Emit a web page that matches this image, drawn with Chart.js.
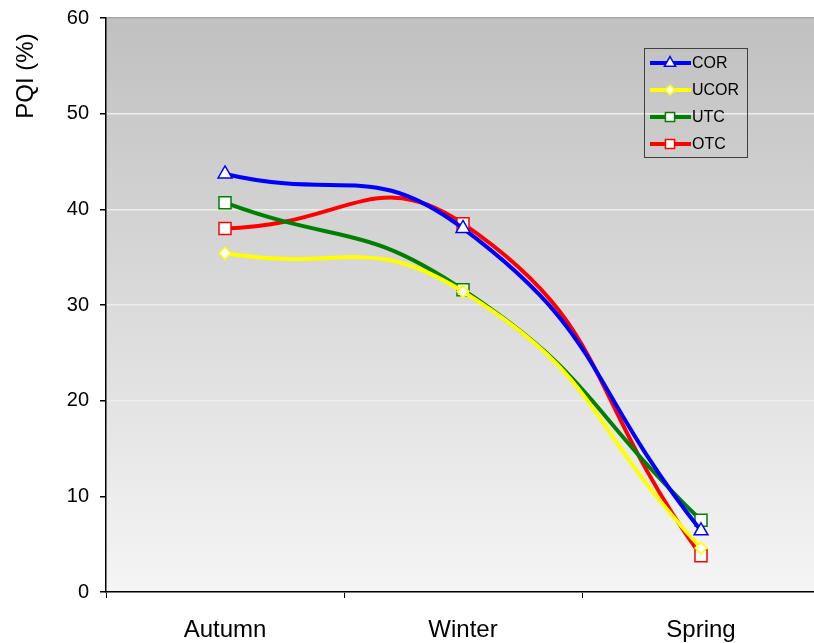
<!DOCTYPE html>
<html><head><meta charset="utf-8">
<script src="https://cdn.jsdelivr.net/npm/chart.js@4.4.0/dist/chart.umd.min.js"></script>
<style>
html,body{margin:0;padding:0;overflow:hidden;background:#fff;width:814px;height:643px;}
#wrap{position:absolute;left:0;top:0;width:830px;height:643px;}
</style></head><body>
<div id="wrap"><canvas id="c" width="830" height="643"></canvas></div>
<script>
const categories = ['Autumn', 'Winter', 'Spring'];
const seriesNames = ['COR', 'UCOR', 'UTC', 'OTC'];
const COR  = [43.7, 38.0, 6.4];
const UCOR = [35.4, 31.4, 4.6];
const UTC  = [40.7, 31.6, 7.5];
const OTC  = [38.0, 38.5, 3.8];
const yTicks = [0, 10, 20, 30, 40, 50, 60];
const yTitle = 'PQI (%)';

const FONT = '"Liberation Sans", Arial, sans-serif';
const colors = ['#0000ff', '#ffff00', '#008000', '#ff0000'];
const styles = ['triangle', 'rectRot', 'rect', 'rect'];
const radii = [8, 6, 8.5, 8.5];
const values = [COR, UCOR, UTC, OTC];

const datasets = seriesNames.map((n, i) => ({
  label: n,
  data: values[i],
  borderColor: colors[i],
  backgroundColor: '#ffffff',
  borderWidth: 4,
  pointStyle: styles[i],
  pointRadius: radii[i],
  pointBorderWidth: 1.5,
  pointBackgroundColor: '#ffffff',
  pointBorderColor: colors[i],
  tension: 0.5,
  fill: false
}));

const bgPlugin = {
  id: 'bg',
  beforeDraw(chart) {
    const {ctx, chartArea: a} = chart;
    const g = ctx.createLinearGradient(0, a.top, 0, a.bottom);
    g.addColorStop(0, '#c0c0c0');
    g.addColorStop(1, '#f5f5f5');
    ctx.save();
    ctx.fillStyle = g;
    ctx.fillRect(a.left, a.top, a.right - a.left, a.bottom - a.top);
    ctx.restore();
  }
};

const titlePlugin = {
  id: 'ytitle',
  afterDraw(chart) {
    const ctx = chart.ctx;
    ctx.save();
    ctx.translate(26, 76);
    ctx.rotate(-Math.PI / 2);
    ctx.font = '24px ' + FONT;
    ctx.fillStyle = '#000';
    ctx.textAlign = 'center';
    ctx.textBaseline = 'middle';
    ctx.fillText(yTitle, 0, 0);
    ctx.restore();
  }
};

const legendPlugin = {
  id: 'customLegend',
  afterDraw(chart) {
    const ctx = chart.ctx;
    ctx.save();
    ctx.strokeStyle = '#404040';
    ctx.lineWidth = 1;
    ctx.strokeRect(644.5, 48.5, 103, 109);
    ctx.font = '16px ' + FONT;
    ctx.textBaseline = 'middle';
    ctx.fillStyle = '#000';
    chart.data.datasets.forEach((ds, i) => {
      const y = 63 + i * 27;
      ctx.strokeStyle = ds.borderColor;
      ctx.lineWidth = 4;
      ctx.beginPath(); ctx.moveTo(650, y); ctx.lineTo(691, y); ctx.stroke();
      ctx.fillStyle = '#fff';
      ctx.strokeStyle = ds.borderColor;
      ctx.lineWidth = 1.5;
      Chart.helpers.drawPoint(ctx, {pointStyle: ds.pointStyle, radius: ds.pointStyle === 'rectRot' ? 5 : 6.5, borderWidth: 1.5, rotation: 0}, 670, y);
      ctx.fillStyle = '#000';
      ctx.fillText(ds.label, 692, y + 1);
    });
    ctx.restore();
  }
};

new Chart(document.getElementById('c'), {
  type: 'line',
  data: { labels: categories, datasets },
  plugins: [bgPlugin, legendPlugin, titlePlugin],
  options: {
    responsive: false,
    animation: false,
    layout: { padding: { top: 18, right: 8, left: 0, bottom: 0 } },
    plugins: { legend: { display: false }, tooltip: { enabled: false } },
    scales: {
      x: {
        offset: true,
        grid: { offset: true, drawOnChartArea: false, drawTicks: true, tickLength: 6, color: '#000', lineWidth: 1 },
        border: { color: '#000', width: 1.5 },
        ticks: { color: '#000', font: { family: FONT, size: 24 }, padding: 18, maxRotation: 0 },
        afterFit(s) { s.height = 51; }
      },
      y: {
        min: 0, max: 60,
        afterBuildTicks(s) { s.ticks = yTicks.map(v => ({ value: v })); },
        grid: {
          color: ctx => (ctx.tick && ctx.tick.value === 60) ? '#a8a8a8' : '#eeeeee',
          lineWidth: 1.5, tickLength: 6, tickColor: '#000'
        },
        border: { color: '#000', width: 1.5 },
        ticks: { color: '#000', font: { family: FONT, size: 20 }, padding: 11 },
        afterFit(s) { s.width = 106; s.paddingTop = 0; s.paddingBottom = 0; }
      }
    }
  }
});
</script>
</body></html>
